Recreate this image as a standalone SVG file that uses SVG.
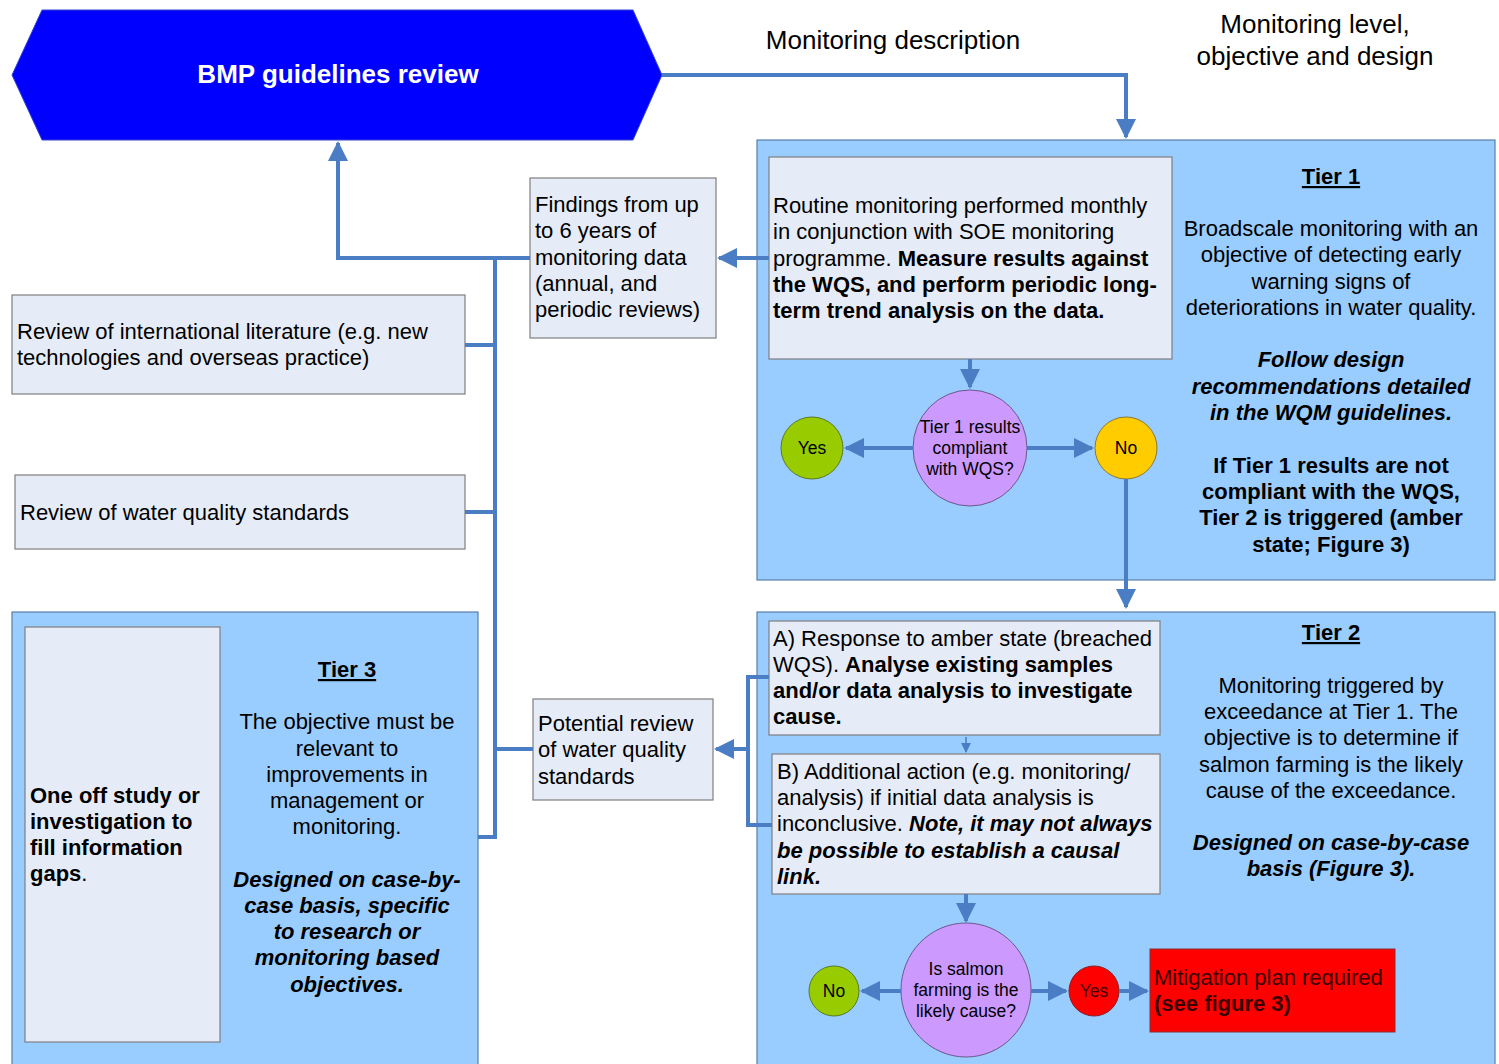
<svg xmlns="http://www.w3.org/2000/svg" width="1499" height="1064" viewBox="0 0 1499 1064">
<defs>
<style>
text{font-family:"Liberation Sans",Arial,sans-serif;fill:#000;}
.t{font-size:22px;}
.c{text-anchor:middle;}
.b{font-weight:bold;}
.i{font-style:italic;}
.u{text-decoration:underline;}
.tier{fill:#99ccff;stroke:#5a7fa8;stroke-width:1.2;}
.box{fill:#e6ecf7;stroke:#7f7f7f;stroke-width:1.2;}
.con{fill:none;stroke:#4a7dc4;stroke-width:4;}
.thin{fill:none;stroke:#4a7dc4;stroke-width:1.5;}
.small{font-size:17.5px;}
</style>
<marker id="ah" viewBox="0 0 10 10" refX="9" refY="5" markerWidth="5" markerHeight="5" markerUnits="strokeWidth" orient="auto">
<path d="M0,0 L10,5 L0,10 z" fill="#4a7dc4"/>
</marker>
<marker id="ahs" viewBox="0 0 10 10" refX="9" refY="5" markerWidth="7" markerHeight="7" markerUnits="strokeWidth" orient="auto">
<path d="M0,0 L10,5 L0,10 z" fill="#4a7dc4"/>
</marker>
</defs>
<rect width="1499" height="1064" fill="#fff"/>

<text class="c" x="893" y="49" font-size="26">Monitoring description</text>
<text class="c" x="1315" y="33" font-size="26">Monitoring level,</text>
<text class="c" x="1315" y="65" font-size="26">objective and design</text>

<g id="bmp">
<polygon points="42,10 633,10 662,75 633,140 42,140 12,75" fill="#0000ff" stroke="#3344cc" stroke-width="1"/>
<text class="c b" x="338" y="83" font-size="26" style="fill:#fff">BMP guidelines review</text>
</g>

<g id="tier1">
<rect class="tier" x="757" y="140" width="738" height="440"/>
<text class="c b u t" x="1331" y="184">Tier 1</text>
<text class="c t" x="1331" y="236">Broadscale monitoring with an</text>
<text class="c t" x="1331" y="262">objective of detecting early</text>
<text class="c t" x="1331" y="289">warning signs of</text>
<text class="c t" x="1331" y="315">deteriorations in water quality.</text>
<text class="c t b i" x="1331" y="367">Follow design</text>
<text class="c t b i" x="1331" y="394">recommendations detailed</text>
<text class="c t b i" x="1331" y="420">in the WQM guidelines.</text>
<text class="c t b" x="1331" y="473">If Tier 1 results are not</text>
<text class="c t b" x="1331" y="499">compliant with the WQS,</text>
<text class="c t b" x="1331" y="525">Tier 2 is triggered (amber</text>
<text class="c t b" x="1331" y="552">state; Figure 3)</text>
</g>

<g id="routine">
<rect class="box" x="769" y="157" width="403" height="202"/>
<text class="t" x="773" y="213">Routine monitoring performed monthly</text>
<text class="t" x="773" y="239">in conjunction with SOE monitoring</text>
<text class="t" x="773" y="266">programme. <tspan class="b">Measure results against</tspan></text>
<text class="t b" x="773" y="292">the WQS, and perform periodic long-</text>
<text class="t b" x="773" y="318">term trend analysis on the data.</text>
</g>

<g id="q1">
<ellipse cx="970" cy="448" rx="57" ry="58" fill="#cc99ff" stroke="#6a5a8a" stroke-width="1"/>
<text class="c small" x="970" y="433">Tier 1 results</text>
<text class="c small" x="970" y="454">compliant</text>
<text class="c small" x="970" y="475">with WQS?</text>
</g>
<g id="yes1">
<circle cx="812" cy="448" r="31" fill="#99cc00" stroke="#5a7a20" stroke-width="1"/>
<text class="c small" x="812" y="454">Yes</text>
</g>
<g id="no1">
<circle cx="1126" cy="448" r="31" fill="#ffcc00" stroke="#8a7a30" stroke-width="1"/>
<text class="c small" x="1126" y="454">No</text>
</g>

<g id="findings">
<rect class="box" x="530" y="178" width="186" height="160"/>
<text class="t" x="535" y="212">Findings from up</text>
<text class="t" x="535" y="238">to 6 years of</text>
<text class="t" x="535" y="265">monitoring data</text>
<text class="t" x="535" y="291">(annual, and</text>
<text class="t" x="535" y="317">periodic reviews)</text>
</g>

<g id="literature">
<rect class="box" x="12" y="295" width="453" height="99"/>
<text class="t" x="17" y="339">Review of international literature (e.g. new</text>
<text class="t" x="17" y="365">technologies and overseas practice)</text>
</g>

<g id="wqs">
<rect class="box" x="15" y="475" width="450" height="74"/>
<text class="t" x="20" y="520">Review of water quality standards</text>
</g>

<g id="tier3">
<rect class="tier" x="12" y="612" width="466" height="460"/>
<rect class="box" x="25" y="627" width="195" height="415"/>
<text class="t b" x="30" y="803">One off study or</text>
<text class="t b" x="30" y="829">investigation to</text>
<text class="t b" x="30" y="855">fill information</text>
<text class="t b" x="30" y="881">gaps<tspan font-weight="normal">.</tspan></text>
<text class="c b u t" x="347" y="677">Tier 3</text>
<text class="c t" x="347" y="729">The objective must be</text>
<text class="c t" x="347" y="756">relevant to</text>
<text class="c t" x="347" y="782">improvements in</text>
<text class="c t" x="347" y="808">management or</text>
<text class="c t" x="347" y="834">monitoring.</text>
<text class="c t b i" x="347" y="887">Designed on case-by-</text>
<text class="c t b i" x="347" y="913">case basis, specific</text>
<text class="c t b i" x="347" y="939">to research or</text>
<text class="c t b i" x="347" y="965">monitoring based</text>
<text class="c t b i" x="347" y="992">objectives.</text>
</g>

<g id="potential">
<rect class="box" x="533" y="699" width="180" height="101"/>
<text class="t" x="538" y="731">Potential review</text>
<text class="t" x="538" y="757">of water quality</text>
<text class="t" x="538" y="784">standards</text>
</g>

<g id="tier2">
<rect class="tier" x="757" y="612" width="738" height="460"/>
<text class="c b u t" x="1331" y="640">Tier 2</text>
<text class="c t" x="1331" y="693">Monitoring triggered by</text>
<text class="c t" x="1331" y="719">exceedance at Tier 1. The</text>
<text class="c t" x="1331" y="745">objective is to determine if</text>
<text class="c t" x="1331" y="772">salmon farming is the likely</text>
<text class="c t" x="1331" y="798">cause of the exceedance.</text>
<text class="c t b i" x="1331" y="850">Designed on case-by-case</text>
<text class="c t b i" x="1331" y="876">basis (Figure 3).</text>
</g>

<g id="stepA">
<rect class="box" x="769" y="621" width="391" height="114"/>
<text class="t" x="773" y="646">A) Response to amber state (breached</text>
<text class="t" x="773" y="672">WQS). <tspan class="b">Analyse existing samples</tspan></text>
<text class="t b" x="773" y="698">and/or data analysis to investigate</text>
<text class="t b" x="773" y="724">cause.</text>
</g>

<g id="stepB">
<rect class="box" x="772" y="754" width="388" height="140"/>
<text class="t" x="777" y="779">B) Additional action (e.g. monitoring/</text>
<text class="t" x="777" y="805">analysis) if initial data analysis is</text>
<text class="t" x="777" y="831">inconclusive. <tspan class="b i">Note, it may not always</tspan></text>
<text class="t b i" x="777" y="858">be possible to establish a causal</text>
<text class="t b i" x="777" y="884">link.</text>
</g>

<g id="q2">
<ellipse cx="966" cy="990" rx="65" ry="67" fill="#cc99ff" stroke="#6a5a8a" stroke-width="1"/>
<text class="c small" x="966" y="975">Is salmon</text>
<text class="c small" x="966" y="996">farming is the</text>
<text class="c small" x="966" y="1017">likely cause?</text>
</g>
<g id="no2">
<circle cx="834" cy="991" r="25" fill="#99cc00" stroke="#5a7a20" stroke-width="1"/>
<text class="c small" x="834" y="997">No</text>
</g>
<g id="yes2">
<circle cx="1094" cy="991" r="25" fill="#ff0000" stroke="#8a2020" stroke-width="1"/>
<text class="c small" x="1094" y="997" style="fill:#400000">Yes</text>
</g>
<g id="mitigation">
<rect x="1150" y="949" width="245" height="83" fill="#ff0000" stroke="#8a3030" stroke-width="1"/>
<text class="t" x="1154" y="985" style="fill:#3a0000">Mitigation plan required</text>
<text class="t b" x="1154" y="1011" style="fill:#3a0000">(see figure 3)</text>
</g>

<g id="connectors">
<path class="con" d="M662,75 H1126 V137" marker-end="url(#ah)"/>
<path class="con" d="M769,258 H719" marker-end="url(#ah)"/>
<path class="con" d="M530,258 H338 V143" marker-end="url(#ah)"/>
<path class="con" d="M495,258 V837 H478"/>
<path class="con" d="M465,345 H495"/>
<path class="con" d="M465,512 H495"/>
<path class="con" d="M495,749 H533"/>
<path class="con" d="M970,359 V387" marker-end="url(#ah)"/>
<path class="con" d="M913,448 H846" marker-end="url(#ah)"/>
<path class="con" d="M1027,448 H1092" marker-end="url(#ah)"/>
<path class="con" d="M1126,479 V607" marker-end="url(#ah)"/>
<path class="con" d="M769,677 H748 V825 H772"/>
<path class="con" d="M748,749 H716" marker-end="url(#ah)"/>
<path class="thin" d="M966,737 V752" marker-end="url(#ahs)"/>
<path class="con" d="M966,894 V921" marker-end="url(#ah)"/>
<path class="con" d="M901,991 H862" marker-end="url(#ah)"/>
<path class="con" d="M1031,991 H1066" marker-end="url(#ah)"/>
<path class="con" d="M1119,991 H1147" marker-end="url(#ah)"/>
</g>
</svg>
